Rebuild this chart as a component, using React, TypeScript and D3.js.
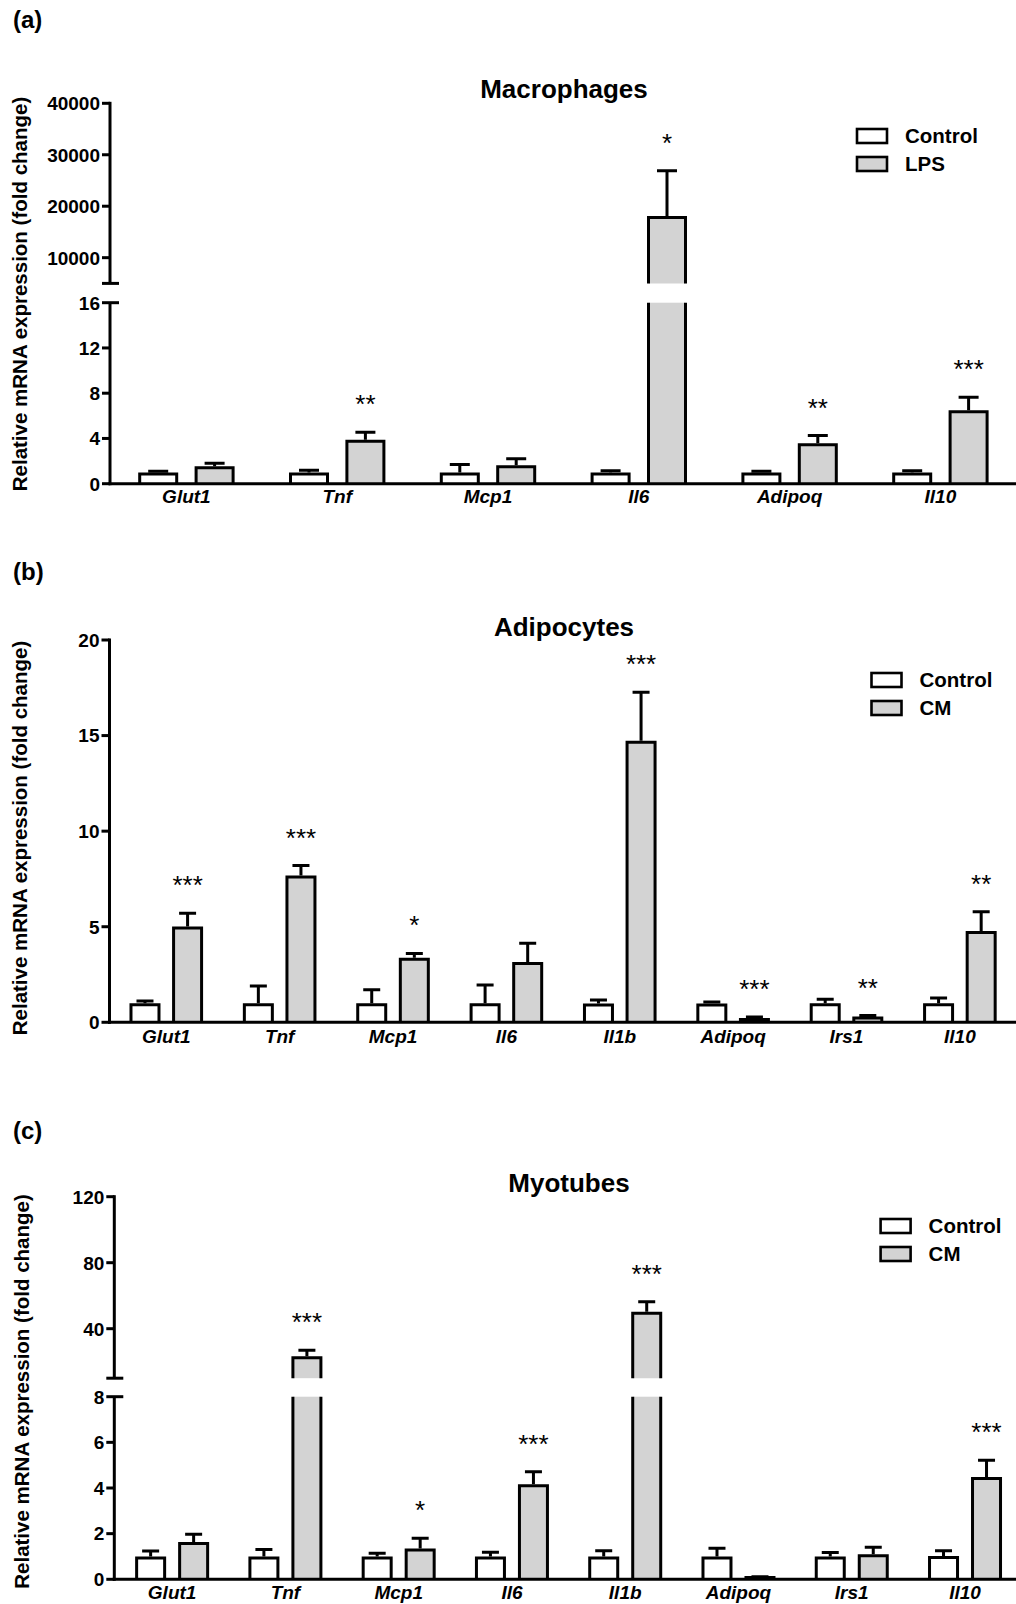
import React from "react";
import * as d3 from "d3";

const W = 1016;
const H = 1604;
const FONT = "'Liberation Sans', Arial, Helvetica, sans-serif";
const GRAY = "#d3d3d3";

// ---------- Data ----------
const genesA = ["Glut1", "Tnf", "Mcp1", "Il6", "Adipoq", "Il10"];
const seriesA = ["Control", "LPS"];
const ctrlMeanA = [0.85, 0.85, 0.85, 0.85, 0.85, 0.85];
const ctrlSemA = [0.25, 0.35, 0.85, 0.3, 0.25, 0.3];
const lpsMeanA = [1.4, 3.75, 1.5, 17800, 3.45, 6.35];
const lpsSemA = [0.4, 0.8, 0.7, 9100, 0.8, 1.3];
const starsA = ["", "**", "", "*", "**", "***"];
const ticksAUpper = [10000, 20000, 30000, 40000];
const ticksALower = [0, 4, 8, 12, 16];

const genesBC = ["Glut1", "Tnf", "Mcp1", "Il6", "Il1b", "Adipoq", "Irs1", "Il10"];
const seriesBC = ["Control", "CM"];
const ctrlMeanB = [0.92, 0.92, 0.92, 0.92, 0.9, 0.9, 0.92, 0.92];
const ctrlSemB = [0.19, 0.98, 0.78, 1.03, 0.27, 0.16, 0.28, 0.35];
const cmMeanB = [4.93, 7.6, 3.3, 3.08, 14.65, 0.15, 0.22, 4.7];
const cmSemB = [0.77, 0.6, 0.3, 1.05, 2.62, 0.13, 0.13, 1.08];
const starsB = ["***", "***", "*", "", "***", "***", "**", "**"];
const ticksB = [0, 5, 10, 15, 20];

const ctrlMeanC = [0.93, 0.93, 0.93, 0.93, 0.93, 0.93, 0.93, 0.96];
const ctrlSemC = [0.31, 0.38, 0.21, 0.25, 0.32, 0.43, 0.24, 0.29];
const cmMeanC = [1.57, 22.4, 1.28, 4.1, 49.3, 0.08, 1.03, 4.42];
const cmSemC = [0.4, 4.6, 0.52, 0.61, 7.1, 0.03, 0.37, 0.8];
const starsC = ["", "***", "*", "***", "***", "", "", "***"];
const ticksCUpper = [40, 80, 120];
const ticksCLower = [0, 2, 4, 6, 8];

const yLabel = "Relative mRNA expression (fold change)";

type Seg = { domain: [number, number]; range: [number, number]; ticks: number[] };

type PanelProps = {
  tag: string;
  tagY: number;
  title: string;
  titleX: number;
  titleY: number;
  genes: string[];
  series: string[];
  means: number[][];
  sems: number[][];
  stars: string[];
  segs: Seg[];
  axisX: number;
  bandStart: number;
  bandStep: number;
  barW: number;
  barOffset: number;
  capW: number;
  legendX: number;
  legendY: number;
  yLabelX: number;
  yLabelY: number;
  xLabelDy: number;
};

function Panel(p: PanelProps) {
  const scales = p.segs.map((s) => d3.scaleLinear().domain(s.domain).range(s.range));
  const lower = scales[0];
  const lowerMax = p.segs[0].domain[1];
  const upper = scales.length > 1 ? scales[1] : null;
  const yOf = (v: number) => (upper && v > lowerMax ? upper(v) : lower(v));
  const y0 = lower(0);

  const xBand = d3
    .scaleBand<string>()
    .domain(p.genes)
    .range([p.bandStart, p.bandStart + p.bandStep * p.genes.length]);
  const xOff = d3.scalePoint<string>().domain(p.series).range([-p.barOffset, p.barOffset]);
  const xc = (g: string, s: string) => (xBand(g) as number) + xBand.bandwidth() / 2 + (xOff(s) as number);

  const sw = 3;
  const marks: React.ReactNode[] = [];

  p.genes.forEach((g, gi) => {
    p.series.forEach((s, si) => {
      const m = p.means[si][gi];
      const e = m + p.sems[si][gi];
      const c = xc(g, s);
      const x0 = c - p.barW / 2;
      const x1 = c + p.barW / 2;
      const fill = si === 0 ? "#ffffff" : GRAY;
      const key = `${g}-${s}`;
      if (upper && m > lowerMax) {
        const lowTop = lower(lowerMax);
        const upBot = upper(p.segs[1].domain[0]);
        const yTop = upper(m);
        marks.push(
          <g key={key}>
            <rect x={x0} y={lowTop} width={p.barW} height={y0 - lowTop} fill={fill} />
            <path d={`M${x0},${y0}V${lowTop}M${x1},${lowTop}V${y0}`} stroke="#000" strokeWidth={sw} fill="none" />
            <path d={`M${x0},${upBot}V${yTop}H${x1}V${upBot}`} stroke="#000" strokeWidth={sw} fill={fill} />
          </g>
        );
      } else {
        const yTop = lower(m);
        marks.push(
          <path key={key} d={`M${x0},${y0}V${yTop}H${x1}V${y0}`} stroke="#000" strokeWidth={sw} fill={fill} />
        );
      }
      const yT = yOf(m);
      const yE = yOf(e);
      marks.push(
        <path
          key={key + "-err"}
          d={`M${c},${yT - sw / 2}V${yE}M${c - p.capW / 2},${yE}H${c + p.capW / 2}`}
          stroke="#000"
          strokeWidth={sw}
          fill="none"
        />
      );
      if (si === 1 && p.stars[gi]) {
        marks.push(
          <text
            key={key + "-star"}
            x={c}
            y={yE - 19}
            textAnchor="middle"
            fontSize={26}
            fontFamily={FONT}
            fill="#000"
          >
            {p.stars[gi]}
          </text>
        );
      }
    });
  });

  // axes
  const axis: React.ReactNode[] = [];
  p.segs.forEach((s, i) => {
    const sc = scales[i];
    const yBot = sc(s.domain[0]);
    const yTopS = sc(s.domain[1]);
    const isLower = i === 0;
    axis.push(
      <line
        key={`ax-${i}`}
        x1={p.axisX}
        x2={p.axisX}
        y1={yTopS - (i === p.segs.length - 1 ? sw / 2 : 0)}
        y2={isLower ? yBot + sw / 2 : yBot}
        stroke="#000"
        strokeWidth={sw}
      />
    );
    s.ticks.forEach((t) => {
      const y = sc(t);
      const breakTop = isLower && p.segs.length > 1 && t === s.domain[1];
      axis.push(
        <line
          key={`tk-${i}-${t}`}
          x1={p.axisX - 8}
          x2={breakTop ? p.axisX + 9 : p.axisX}
          y1={y}
          y2={y}
          stroke="#000"
          strokeWidth={sw}
        />
      );
      axis.push(
        <text
          key={`tl-${i}-${t}`}
          x={p.axisX - 10}
          y={y}
          dy="0.36em"
          textAnchor="end"
          fontSize={19}
          fontWeight="bold"
          fontFamily={FONT}
        >
          {t}
        </text>
      );
    });
    if (!isLower) {
      axis.push(
        <line key={`cap-${i}`} x1={p.axisX - 8} x2={p.axisX + 9} y1={yBot} y2={yBot} stroke="#000" strokeWidth={sw} />
      );
    }
  });
  axis.push(
    <line key="xax" x1={p.axisX - sw / 2} x2={W} y1={y0} y2={y0} stroke="#000" strokeWidth={sw} />
  );
  p.genes.forEach((g) => {
    axis.push(
      <text
        key={`xl-${g}`}
        x={(xBand(g) as number) + xBand.bandwidth() / 2}
        y={y0 + p.xLabelDy}
        textAnchor="middle"
        fontSize={19}
        fontWeight="bold"
        fontStyle="italic"
        fontFamily={FONT}
      >
        {g}
      </text>
    );
  });

  const legend = p.series.map((s, i) => {
    const cy = p.legendY + i * 28;
    return (
      <g key={`lg-${s}`}>
        <rect
          x={p.legendX}
          y={cy - 7}
          width={30}
          height={14}
          fill={i === 0 ? "#fff" : GRAY}
          stroke="#000"
          strokeWidth={2.6}
        />
        <text x={p.legendX + 48} y={cy} dy="0.36em" fontSize={20.5} fontWeight="bold" fontFamily={FONT}>
          {s}
        </text>
      </g>
    );
  });

  return (
    <g>
      <text x={13} y={p.tagY} fontSize={24} fontWeight="bold" fontFamily={FONT}>
        {p.tag}
      </text>
      <text x={p.titleX} y={p.titleY} textAnchor="middle" fontSize={26} fontWeight="bold" fontFamily={FONT}>
        {p.title}
      </text>
      <text
        transform={`translate(${p.yLabelX},${p.yLabelY}) rotate(-90)`}
        textAnchor="middle"
        fontSize={20.5}
        fontWeight="bold"
        fontFamily={FONT}
      >
        {yLabel}
      </text>
      {marks}
      {axis}
      {legend}
    </g>
  );
}

export default function App() {
  return (
    <svg
      width={W}
      height={H}
      viewBox={`0 0 ${W} ${H}`}
      style={{ position: "absolute", left: 0, top: 0, background: "#fff" }}
    >
      <rect x={0} y={0} width={W} height={H} fill="#fff" />
      <Panel
        tag="(a)"
        tagY={28}
        title="Macrophages"
        titleX={564}
        titleY={98}
        genes={genesA}
        series={seriesA}
        means={[ctrlMeanA, lpsMeanA]}
        sems={[ctrlSemA, lpsSemA]}
        stars={starsA}
        segs={[
          { domain: [0, 16], range: [483.7, 302.7], ticks: ticksALower },
          { domain: [5000, 40000], range: [283.4, 103.3], ticks: ticksAUpper },
        ]}
        axisX={110}
        bandStart={111}
        bandStep={150.8}
        barW={37}
        barOffset={28.2}
        capW={20}
        legendX={857}
        legendY={136}
        yLabelX={27}
        yLabelY={294}
        xLabelDy={19.5}
      />
      <Panel
        tag="(b)"
        tagY={580}
        title="Adipocytes"
        titleX={564}
        titleY={636}
        genes={genesBC}
        series={seriesBC}
        means={[ctrlMeanB, cmMeanB]}
        sems={[ctrlSemB, cmSemB]}
        stars={starsB}
        segs={[{ domain: [0, 20], range: [1022.3, 640], ticks: ticksB }]}
        axisX={109.5}
        bandStart={109.6}
        bandStep={113.37}
        barW={28}
        barOffset={21.3}
        capW={17}
        legendX={871.5}
        legendY={680}
        yLabelX={27}
        yLabelY={838}
        xLabelDy={20.5}
      />
      <Panel
        tag="(c)"
        tagY={1138.5}
        title="Myotubes"
        titleX={569}
        titleY={1191.7}
        genes={genesBC}
        series={seriesBC}
        means={[ctrlMeanC, cmMeanC]}
        sems={[ctrlSemC, cmSemC]}
        stars={starsC}
        segs={[
          { domain: [0, 8], range: [1579.3, 1396.7], ticks: ticksCLower },
          { domain: [10, 120], range: [1378.2, 1196.7], ticks: ticksCUpper },
        ]}
        axisX={114.3}
        bandStart={115.5}
        bandStep={113.27}
        barW={28}
        barOffset={21.5}
        capW={17}
        legendX={880.6}
        legendY={1226}
        yLabelX={29}
        yLabelY={1391.5}
        xLabelDy={20}
      />
    </svg>
  );
}
